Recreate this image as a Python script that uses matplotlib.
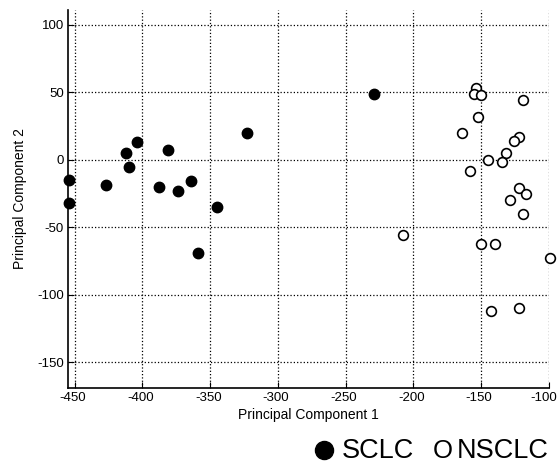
import numpy as np
import matplotlib.pyplot as plt
from matplotlib.transforms import ScaledTranslation

plt.rcParams["font.family"] = ["Liberation Sans", "DejaVu Sans"]
plt.rcParams["axes.unicode_minus"] = False

# -------------------- data --------------------
sclc_pc1 = [-454, -454, -427, -412, -410, -404, -381, -388, -374, -364, -345, -359, -323, -229]
sclc_pc2 = [-15, -32, -19, 5, -5, 13, 7, -20, -23, -16, -35, -69, 20, 49]

nsclc_pc1 = [-154, -155, -150, -119, -152, -164, -122, -126, -132, -145, -135,
             -158, -122, -117, -129, -119, -208, -150, -140, -99, -143, -122]
nsclc_pc2 = [53, 49, 48, 44, 32, 20, 17, 14, 5, 0, -2,
             -8, -21, -25, -30, -40, -56, -62, -62, -73, -112, -110]

xticks = [-450, -400, -350, -300, -250, -200, -150, -100]
yticks = [-150, -100, -50, 0, 50, 100]

# -------------------- plot --------------------
fig = plt.figure(figsize=(5.59, 4.67), dpi=100)
ax = fig.add_axes([0.1216, 0.169, 0.982 - 0.1216, 0.979 - 0.169])

ax.plot(sclc_pc1, sclc_pc2, "o", color="black", markersize=7.5, clip_on=False, zorder=3)
ax.plot(nsclc_pc1, nsclc_pc2, "o", markerfacecolor="white", markeredgecolor="black",
        markeredgewidth=1.2, markersize=7, clip_on=False, zorder=3)

ax.set_xlim(-455, -100)
ax.set_ylim(-169, 111)
ax.set_xticks(xticks)
ax.set_yticks(yticks)
ax.grid(True, linestyle=":", color="black", linewidth=0.9)
ax.set_axisbelow(True)

for s in ["top", "right"]:
    ax.spines[s].set_visible(False)
ax.spines["left"].set_linewidth(1.2)
ax.spines["bottom"].set_linewidth(1.2)
ax.tick_params(direction="in", length=4, labelsize=9.5, pad=3)

# nudge tick labels a little left, the last one a bit more so it stays inside
xlabels = ax.get_xticklabels()
for i, lab in enumerate(xlabels):
    dx = -0.05 if i == len(xlabels) - 1 else -0.02
    lab.set_transform(lab.get_transform() + ScaledTranslation(dx, 0, fig.dpi_scale_trans))

ax.set_xlabel("Principal Component 1", fontsize=10, labelpad=3)
ax.set_ylabel("Principal Component 2", fontsize=10, labelpad=7)

# legend drawn as text, like the original
ax.plot([0.5796], [0.037], "o", color="black", markersize=13,
        transform=fig.transFigure, clip_on=False)
fig.text(0.612, 0.020, "SCLC", ha="left", va="baseline", fontsize=19.5)
fig.text(0.7746, 0.020, "O", ha="left", va="baseline", fontsize=18.5)
fig.text(0.8175, 0.020, "NSCLC", ha="left", va="baseline", fontsize=19.5)

fig.savefig("out.png", dpi=100)
